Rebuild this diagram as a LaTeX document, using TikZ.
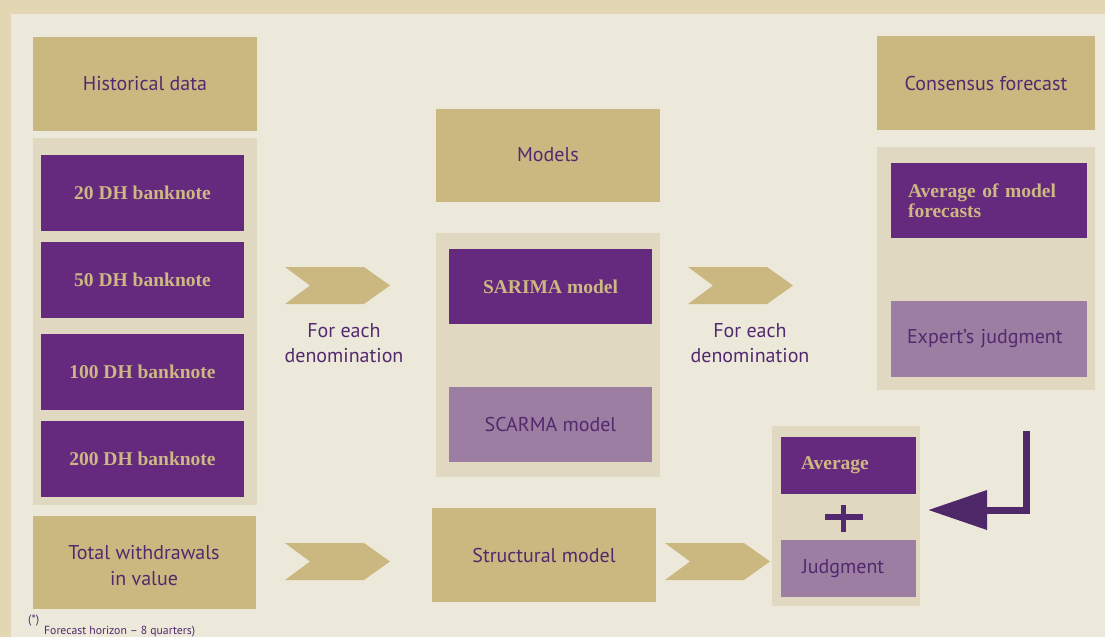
\documentclass[tikz,border=0pt]{standalone}
\usepackage{fontspec}
\setmainfont{PT Sans}
\newfontfamily\garfont{Liberation Serif}
\usetikzlibrary{arrows.meta}

\definecolor{outerbg}{HTML}{E2D6B3}
\definecolor{innerbg}{HTML}{EDE9DA}
\definecolor{tan}{HTML}{CAB880}
\definecolor{panelbg}{HTML}{E0D8C0}
\definecolor{darkpurple}{HTML}{652A7E}
\definecolor{lightpurple}{HTML}{9B7EA2}
\definecolor{txtpurple}{HTML}{52296E}
\definecolor{arrowpurple}{HTML}{4E2868}
\definecolor{gold}{HTML}{CDB883}

\tikzset{
  box/.style={rectangle, inner sep=0pt, outer sep=0pt, text=txtpurple,
    font=\fontsize{20}{25}\selectfont, align=center},
  tanbox/.style={box, fill=tan},
  lightbox/.style={box, fill=lightpurple},
  darkbox/.style={box, fill=darkpurple, text=gold,
    font=\garfont\bfseries\fontsize{19.5}{20}\selectfont},
  panel/.style={rectangle, fill=panelbg, inner sep=0pt, outer sep=0pt},
  caption/.style={text=txtpurple, font=\fontsize{20}{25}\selectfont, align=center, inner sep=0pt},
  chevron/.pic={\fill[tan] (0,0) -- (79,0) -- (105,18.5) -- (79,37) -- (0,37) -- (25,18.5) -- cycle;},
  bendarrow/.style={draw=arrowpurple, line width=7pt, line join=miter,
    -{Triangle[length=59pt,width=38pt]}},
}

\begin{document}
\begin{tikzpicture}[x=1pt,y=-1pt]
  % page background
  \fill[outerbg] (0,0) rectangle (1105,637);
  \fill[innerbg] (11,14) rectangle (1105,637);
  \useasboundingbox (0,0) rectangle (1105,637);

  % left column: historical data
  \node[tanbox, minimum width=224, minimum height=94] (hist) at (145,84) {Historical data};
  \node[panel, minimum width=224, minimum height=367] (leftpanel) at (145,321.5) {};
  \node[darkbox, minimum width=203, minimum height=76] (dh20) at (142.5,193) {20 DH banknote};
  \node[darkbox, minimum width=203, minimum height=76] (dh50) at (142.5,280) {50 DH banknote};
  \node[darkbox, minimum width=203, minimum height=76] (dh100) at (142.5,372) {100 DH banknote};
  \node[darkbox, minimum width=203, minimum height=76] (dh200) at (142.5,459) {200 DH banknote};
  \node[tanbox, minimum width=223, minimum height=93, font=\fontsize{20}{26}\selectfont] (total) at (144.5,562.5) {};
  \node[caption, font=\fontsize{20}{26}\selectfont] (totaltext) at (144,566) {Total withdrawals\\in value};

  % middle column: models
  \node[tanbox, minimum width=224, minimum height=93] (models) at (548,155) {Models};
  \node[panel, minimum width=224, minimum height=244] (midpanel) at (548,355) {};
  \node[darkbox, minimum width=203, minimum height=75] (sarima) at (550.5,286.5) {SARIMA model};
  \node[lightbox, minimum width=203, minimum height=75] (scarma) at (550.5,424.5) {SCARMA model};
  \node[tanbox, minimum width=224, minimum height=94] (structural) at (544,555) {Structural model};

  % right column: consensus forecast
  \node[tanbox, minimum width=218, minimum height=94] (consensus) at (986,83) {Consensus forecast};
  \node[panel, minimum width=218, minimum height=243] (rightpanel) at (986,268.5) {};
  \node[darkbox, minimum width=196, minimum height=75, text width=162, align=left] (avgmodel) at (989,200.5) {Average of model\\forecasts};
  \node[lightbox, minimum width=196, minimum height=76, text width=164, align=left] (expert) at (989,339) {Expert’s judgment};

  % combination block
  \node[panel, minimum width=148, minimum height=180] (combpanel) at (846,516) {};
  \node[darkbox, minimum width=135, minimum height=57, text width=95, align=left] (average) at (848.5,465.5) {Average};
  \node[lightbox, minimum width=135, minimum height=57, text width=93, align=left] (judgment) at (848.5,568.5) {Judgment};
  \fill[txtpurple] (825,514) rectangle (863,519.5);
  \fill[txtpurple] (841,505) rectangle (846.3,532);

  % chevrons
  \pic at (285,267) {chevron};
  \pic at (688,267) {chevron};
  \pic at (285,543) {chevron};
  \pic at (665,543) {chevron};
  \node[caption] (each1) at (344,343.5) {For each\\denomination};
  \node[caption] (each2) at (750,343.5) {For each\\denomination};

  % expert input arrow
  \coordinate (bendstart) at (1026.5,431);
  \coordinate (arrowtip) at (928,510);
  \draw[bendarrow] (bendstart) |- (arrowtip);

  % footnote
  \node[anchor=west, inner sep=0pt, text=txtpurple, font=\fontsize{12}{12}\selectfont] (fnmark) at (28,621) {(*)};
  \node[anchor=base west, inner sep=0pt, text=txtpurple, font=\fontsize{11.7}{13}\selectfont] (fnote) at (44,634) {Forecast horizon – 8 quarters)};
\end{tikzpicture}
\end{document}
